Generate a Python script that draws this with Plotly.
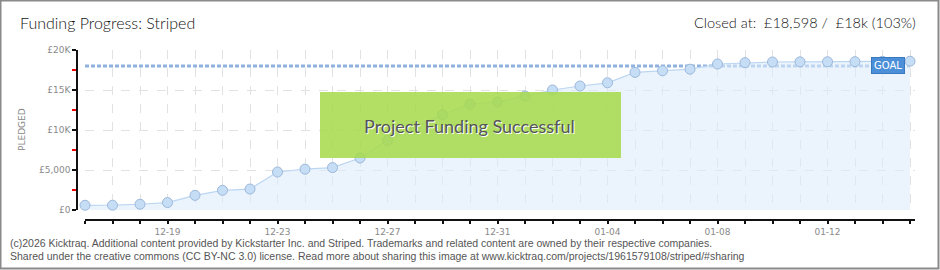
import plotly.graph_objects as go

# ---- data ----
dates = ["12-16", "12-17", "12-18", "12-19", "12-20", "12-21", "12-22", "12-23",
         "12-24", "12-25", "12-26", "12-27", "12-28", "12-29", "12-30", "12-31",
         "01-01", "01-02", "01-03", "01-04", "01-05", "01-06", "01-07", "01-08",
         "01-09", "01-10", "01-11", "01-12", "01-13", "01-14", "01-15"]
pledged = [590, 600, 720, 930, 1830, 2460, 2620, 4750,
           5100, 5300, 6500, 8700, 10400, 11900, 13250, 13500,
           14250, 15000, 15500, 15900, 17200, 17400, 17600, 18250,
           18420, 18500, 18520, 18530, 18540, 18590, 18598]
goal = 18000
ytick_vals = [0, 5000, 10000, 15000, 20000]
ytick_text = ["£0", "£5,000", "£10K", "£15K", "£20K"]
xlabel_every = 4
xlabel_offset = 3

title_text = "Funding Progress: Striped"
closed_text = "Closed at:  £18,598 /  £18k (103%)"
banner_text = "Project Funding Successful"
footer_lines = [
    "(c)2026 Kicktraq. Additional content provided by Kickstarter Inc. and Striped. Trademarks and related content are owned by their respective companies.",
    "Shared under the creative commons (CC BY-NC 3.0) license. Read more about sharing this image at www.kicktraq.com/projects/1961579108/striped/#sharing",
]

# ---- geometry (pixels) ----
W, H = 940, 270
L, R, T, B = 77, 915, 50, 220   # paper box
plot_left = 85
plot_bottom = 210
pw, ph = R - L, B - T

def px(x):
    return (x - L) / pw

def py(y):
    return (B - y) / ph

n = len(dates)
unit = 27.5
xmax = (R - plot_left) / unit

ticktext = [d if (i % xlabel_every == xlabel_offset) else "" for i, d in enumerate(dates)]

axis_font = dict(family="DejaVu Sans", size=9, color="#8a8a8a")
head_font = "Lato, sans-serif"

fig = go.Figure()
fig.add_trace(go.Scatter(
    x=dates, y=[goal] * n, mode="lines",
    line=dict(color="#8fb2de", width=3, dash="4px,2px"),
    hoverinfo="skip", cliponaxis=False,
))
fig.add_trace(go.Scatter(
    x=dates, y=pledged, mode="lines+markers", fill="tozeroy",
    fillcolor="rgba(222,236,251,0.6)",
    line=dict(color="#bcd6f2", width=1.2),
    marker=dict(size=10, color="#c6ddf6", line=dict(color="#9cb8da", width=1)),
    cliponaxis=False,
))

fig.update_layout(
    width=W, height=H,
    margin=dict(l=L, r=W - R, t=T, b=H - B, autoexpand=False),
    paper_bgcolor="white", plot_bgcolor="white",
    showlegend=False,
    title=dict(text=title_text, x=20 / W, xanchor="left", y=1 - 23 / H, yanchor="middle",
               xref="container", yref="container",
               font=dict(family=head_font, size=16, weight=300, color="#111")),
    xaxis=dict(
        type="category", domain=[px(plot_left), 1], range=[0, xmax],
        anchor="free", position=0,
        tickmode="array", tickvals=dates, ticktext=ticktext,
        ticks="outside", ticklen=3, tickcolor="#111", tickwidth=1.5,
        showline=True, linecolor="#111", linewidth=1.5,
        showgrid=True, gridcolor="#e2e2e2", griddash="dash", gridwidth=1,
        tickfont=axis_font, zeroline=False,
    ),
    xaxis2=dict(
        type="linear", overlaying="x", domain=[px(plot_left), 1], range=[0, xmax],
        anchor="free", position=0,
        tickmode="array", tickvals=list(range(n)),
        ticks="inside", ticklen=3, tickcolor="#111", tickwidth=1.5,
        showticklabels=False, showline=False, showgrid=False, zeroline=False,
    ),
    yaxis=dict(
        domain=[py(plot_bottom), 1], range=[0, 20000],
        anchor="free", position=0,
        tickmode="array", tickvals=ytick_vals, ticktext=ytick_text,
        ticks="outside", ticklen=4, tickcolor="#111", tickwidth=1.5,
        minor=dict(dtick=2500, ticks="outside", ticklen=4, tickcolor="#e00", tickwidth=1.5, showgrid=False),
        showline=True, linecolor="#111", linewidth=1.5,
        showgrid=True, gridcolor="#e2e2e2", griddash="dash", gridwidth=1,
        tickfont=axis_font, zeroline=False,
    ),
)

shapes = []
# outer border
shapes.append(dict(type="rect", xref="paper", yref="paper",
                   x0=px(0.5), x1=px(W - 1.5), y0=py(H - 1.5), y1=py(0.5),
                   line=dict(color="#8a8a8a", width=2), fillcolor="rgba(0,0,0,0)", layer="above"))
# success banner
shapes.append(dict(type="rect", xref="paper", yref="paper",
                   x0=px(320), x1=px(621), y0=py(158), y1=py(92),
                   line=dict(width=0), fillcolor="rgba(166,218,76,0.86)", layer="above"))
fig.update_layout(shapes=shapes)

ann = []
ann.append(dict(text=banner_text, xref="paper", yref="paper", x=px(469), y=py(126),
                showarrow=False, xanchor="center", yanchor="middle",
                font=dict(family=head_font, size=18, color="#555",
                          shadow="1px 1px 0px #ffffff")))
ann.append(dict(text=closed_text, xref="paper", yref="paper", x=px(918), y=py(23),
                showarrow=False, xanchor="right", yanchor="middle",
                font=dict(family=head_font, size=14.5, weight=300, color="#111")))
ann.append(dict(text="GOAL", x=dates[-1], y=goal, xref="x", yref="y",
                showarrow=False, xanchor="right", yanchor="middle", xshift=-5, yshift=1,
                bgcolor="#4b8fd8", bordercolor="#3a78c0", borderwidth=1, borderpad=2,
                font=dict(family="DejaVu Sans", size=10, color="white")))
ann.append(dict(text="PLEDGED", xref="paper", yref="paper", x=px(22), y=py(130),
                showarrow=False, textangle=-90, xanchor="center", yanchor="middle",
                font=dict(family="DejaVu Sans", size=9, color="#888")))
for i, line in enumerate(footer_lines):
    ann.append(dict(text=line, xref="paper", yref="paper", x=px(8), y=py(243 + 13 * i),
                    showarrow=False, xanchor="left", yanchor="middle",
                    font=dict(family="Liberation Sans, Arial, sans-serif", size=10.5, color="#555")))
fig.update_layout(annotations=ann)

fig.write_html("out.html")
